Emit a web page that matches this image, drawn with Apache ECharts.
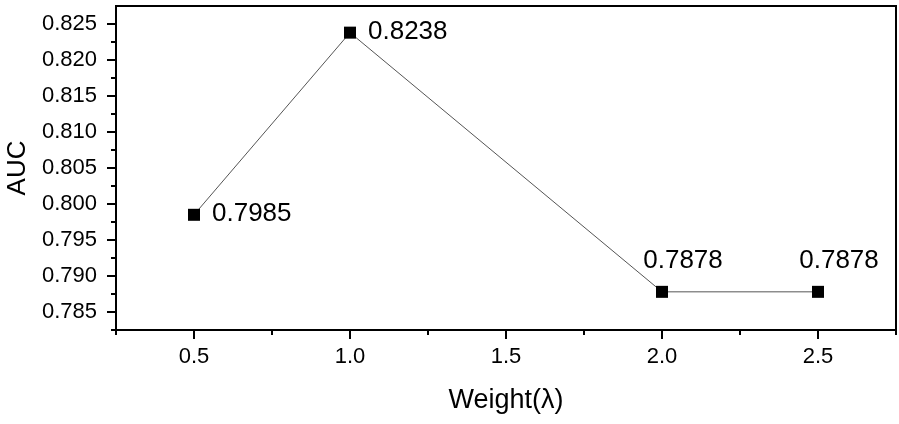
<!DOCTYPE html>
<html>
<head>
<meta charset="utf-8">
<script src="https://cdn.jsdelivr.net/npm/echarts@6/dist/echarts.min.js"></script>
<style>
  html, body { margin: 0; padding: 0; background: #fff; }
  #chart { width: 899px; height: 424px; }
</style>
</head>
<body>
<div id="chart"></div>
<script>
// AUC as a function of the loss weight λ
const weights = [0.5, 1.0, 2.0, 2.5];
const aucValues = [0.7985, 0.8238, 0.7878, 0.7878];
const labelSides = ['right', 'right', 'top', 'top'];

// Axis ticks
const xMajorTicks = [0.5, 1.0, 1.5, 2.0, 2.5];
const xMinorTicks = [0.25, 0.75, 1.25, 1.75, 2.25, 2.75];
const yMajorTicks = [0.785, 0.790, 0.795, 0.800, 0.805, 0.810, 0.815, 0.820, 0.825];
const yMinorTicks = [0.7825, 0.7875, 0.7925, 0.7975, 0.8025, 0.8075, 0.8125, 0.8175, 0.8225];

const X_MIN = 0.25, X_MAX = 2.75;
const Y_MIN = 0.7825, Y_MAX = 0.8275;

const FONT = '"Liberation Sans", Arial, sans-serif';
const lineStyle = { color: '#000', width: 2 };

const chart = echarts.init(document.getElementById('chart'));

chart.setOption({
  animation: false,
  backgroundColor: '#fff',
  grid: {
    left: 116, top: 6, right: 3, bottom: 94,
    outerBoundsMode: 'none', containLabel: false,
    show: true, borderColor: '#000', borderWidth: 2, backgroundColor: 'transparent'
  },
  xAxis: [
    {
      type: 'value', min: X_MIN, max: X_MAX,
      name: 'Weight(λ)', nameLocation: 'middle', nameGap: 57,
      nameTextStyle: { fontFamily: FONT, fontSize: 27, color: '#000' },
      axisLine: { show: true, onZero: false, lineStyle },
      axisTick: { show: true, customValues: xMajorTicks, length: 9, lineStyle: { color: '#000', width: 2 } },
      axisLabel: {
        customValues: xMajorTicks, margin: 16,
        fontFamily: FONT, fontSize: 22, color: '#000',
        formatter: v => v.toFixed(1)
      },
      splitLine: { show: false }
    },
    {
      type: 'value', min: X_MIN, max: X_MAX, position: 'bottom',
      axisLine: { show: false },
      axisTick: { show: true, customValues: xMinorTicks, length: 5, lineStyle: { color: '#000', width: 2 } },
      axisLabel: { show: false },
      splitLine: { show: false }
    }
  ],
  yAxis: [
    {
      type: 'value', min: Y_MIN, max: Y_MAX,
      name: 'AUC', nameLocation: 'middle', nameGap: 82,
      nameTextStyle: { fontFamily: FONT, fontSize: 26, color: '#000' },
      axisLine: { show: true, onZero: false, lineStyle },
      axisTick: { show: true, customValues: yMajorTicks, length: 9, lineStyle: { color: '#000', width: 2 } },
      axisLabel: {
        customValues: yMajorTicks, margin: 19,
        fontFamily: FONT, fontSize: 22, color: '#000',
        formatter: v => v.toFixed(3)
      },
      splitLine: { show: false }
    },
    {
      type: 'value', min: Y_MIN, max: Y_MAX, position: 'left',
      axisLine: { show: false },
      axisTick: { show: true, customValues: yMinorTicks, length: 5, lineStyle: { color: '#000', width: 2 } },
      axisLabel: { show: false },
      splitLine: { show: false }
    }
  ],
  series: [{
    type: 'line',
    xAxisIndex: 0, yAxisIndex: 0,
    data: weights.map((w, i) => ({
      value: [w, aucValues[i]],
      label: labelSides[i] === 'top'
        ? { position: 'top', distance: 12, offset: [21, 0] }
        : { position: 'right', distance: 12, offset: [0, -1] }
    })),
    symbol: 'rect', symbolSize: 12,
    itemStyle: { color: '#000' },
    lineStyle: { color: '#555', width: 1 },
    label: {
      show: true, fontFamily: FONT, fontSize: 26, color: '#000',
      formatter: p => p.value[1].toFixed(4)
    }
  }]
});
</script>
</body>
</html>
